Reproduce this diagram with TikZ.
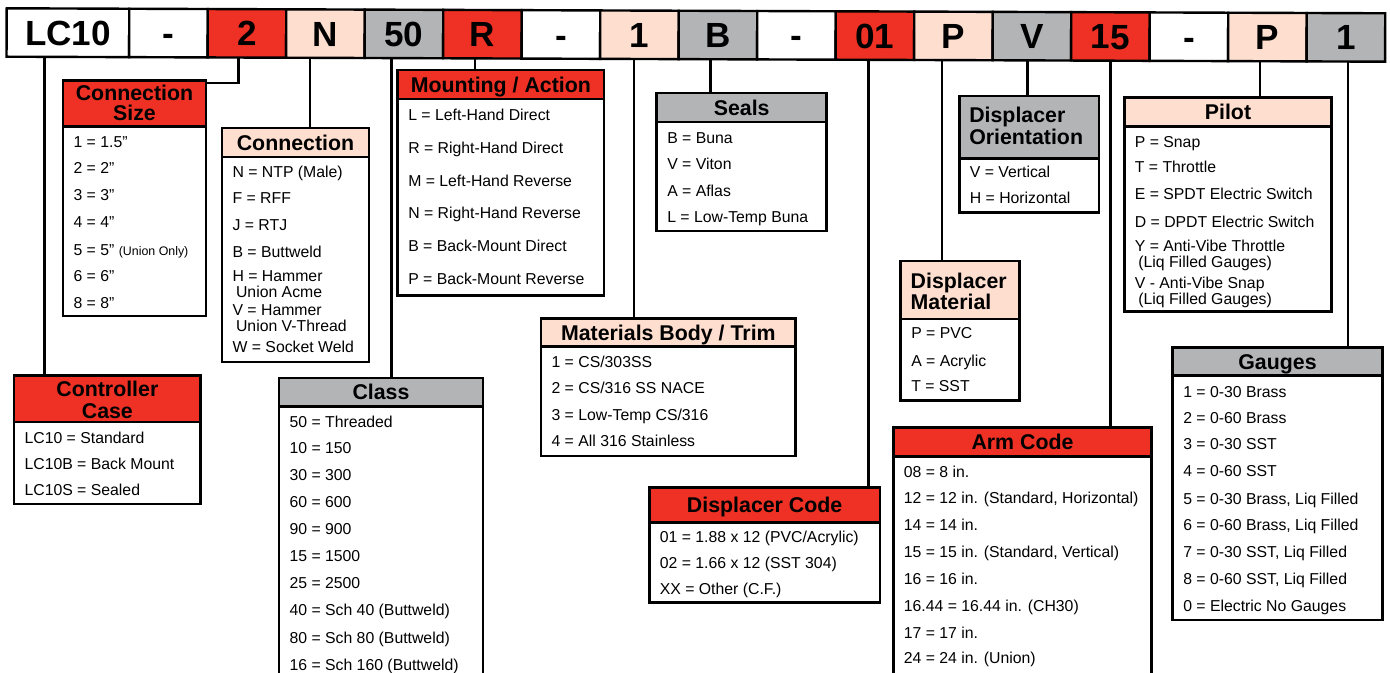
\documentclass[tikz,border=0pt]{standalone}
\usepackage{fontspec}
\setmainfont{Liberation Sans}
\usetikzlibrary{calc}
\newlength{\pxu}\setlength{\pxu}{0.75pt}
\definecolor{cred}{RGB}{238,49,36}
\definecolor{cpeach}{RGB}{253,222,207}
\definecolor{cgray}{RGB}{178,180,182}
\newcommand\itemfont{\fontsize{11.85pt}{14pt}\selectfont}
\newcommand\hdrfont{\fontsize{16pt}{16.3pt}\selectfont\bfseries}
\newcommand\cellfont{\fontsize{26.25pt}{30pt}\selectfont\bfseries}
\newcommand\smallfnt{\fontsize{9.3pt}{11pt}\selectfont}
\tikzset{
  cell/.style={draw, line width=2.4\pxu, minimum width=78.5\pxu, minimum height=48.4\pxu,
    inner sep=0pt, outer sep=0pt, font=\cellfont, text height=18.8pt, text depth=0pt, transform shape},
  hdrbox/.style={draw, line width=2.6\pxu, inner sep=0pt, outer sep=0pt, anchor=north west,
    font=\hdrfont, text height=11.46pt, text depth=0pt},
  bodybox/.style={draw, fill=white, line width=2.6\pxu, inner sep=0pt, outer sep=0pt, anchor=north west},
  item/.style={anchor=base west, inner sep=0pt, font=\itemfont},
  htext/.style={anchor=base, inner sep=0pt, font=\hdrfont},
  htextl/.style={anchor=base west, inner sep=0pt, font=\hdrfont},
  conn/.style={line width=2.4\pxu},
}
\newcommand\mkbox[8]{%
  \node[bodybox, minimum width={(#4-#2)*\pxu}, minimum height={(#6-#5)*\pxu}] (#1-b) at (#2,#5) {};
  \node[hdrbox, fill=#7, minimum width={(#4-#2)*\pxu}, minimum height={(#5-#3)*\pxu}] (#1) at (#2,#3) {#8};
}
\newcommand\items[3]{%
  \foreach \iy/\itxt [count=\cnt] in {#3} {\node[item] (#1-\cnt) at ({#2+10.3},{\iy+5.6}) {\itxt};}
}
\begin{document}
\begin{tikzpicture}[x=0.75pt, y=-0.75pt]
\clip (0,0) rectangle (1390,673);
\fill[white] (0,0) rectangle (1390,673);

% ---- code bar ----
\begin{scope}[rotate around={-0.2076:(6.7,8.3)}]
  \node[cell, minimum width=122.6\pxu, fill=white] (c1) at (68,32.5) {LC10};
  \foreach \lab/\col [count=\i from 2] in {-/white, 2/cred, N/cpeach, 50/cgray, R/cred, -/white,
      1/cpeach, B/cgray, -/white, 01/cred, P/cpeach, V/cgray, 15/cred, -/white, P/cpeach, 1/cgray}
    \node[cell, fill=\col] (c\i) at ({129.3+78.5*(\i-2)+39.25},32.5) {\lab};
\end{scope}

% ---- boxes ----
\mkbox{ccase}{14}{375.7}{200.7}{422}{504}{cred}{}
\node[htext] (ccase-t1) at (107.35,396.6) {Controller};
\node[htext] (ccase-t2) at (107.35,418.3) {Case};
\items{ccase}{14}{437.7/{LC10 = Standard}, 463.7/{LC10B = Back Mount}, 489.7/{LC10S = Sealed}}

\mkbox{csize}{63}{80.7}{206}{126.7}{316}{cred}{}
\node[htext] (csize-t1) at (134.5,100.9) {Connection};
\node[htext] (csize-t2) at (134.5,120.9) {Size};
\items{csize}{63}{141.7/{1 = 1.5”}, 168/{2 = 2”}, 195/{3 = 3”}, 222/{4 = 4”},
  249.7/{5 = 5” {\smallfnt (Union Only)}}, 276/{6 = 6”}, 303/{8 = 8”}}

\mkbox{conn}{222}{128}{369}{157}{362}{cpeach}{Connection}
\items{conn}{222}{171.7/{N = NTP (Male)}, 198/{F = RFF}, 225/{J = RTJ}, 252/{B = Buttweld},
  276/{H = Hammer}, 291.7/{\hspace*{3.5\pxu}Union Acme}, 310/{V = Hammer},
  326/{\hspace*{3.5\pxu}Union V-Thread}, 347/{W = Socket Weld}}

\mkbox{class}{279}{378}{483}{406.7}{690}{cgray}{Class}
\items{class}{279}{421.7/{50 = Threaded}, 448.2/{10 = 150}, 475/{30 = 300}, 502/{60 = 600},
  529/{90 = 900}, 556/{15 = 1500}, 583/{25 = 2500}, 610/{40 = Sch 40 (Buttweld)},
  637.5/{80 = Sch 80 (Buttweld)}, 664.7/{16 = Sch 160 (Buttweld)}}

\mkbox{mount}{397.7}{70}{604}{99}{295.7}{cred}{Mounting / Action}
\items{mount}{397.7}{115/{L = Left-Hand Direct}, 148/{R = Right-Hand Direct},
  181/{M = Left-Hand Reverse}, 213/{N = Right-Hand Reverse}, 246/{B = Back-Mount Direct},
  279/{P = Back-Mount Reverse}}

\mkbox{seals}{656.7}{93}{826.7}{122}{231}{cgray}{Seals}
\items{seals}{656.7}{137.7/{B = Buna}, 163.7/{V = Viton}, 190.7/{A = Aflas}, 216.7/{L = Low-Temp Buna}}

\mkbox{mat}{541}{318.3}{795.7}{346.7}{456}{cpeach}{Materials Body / Trim}
\items{mat}{541}{361.7/{1 = CS/303SS}, 388.3/{2 = CS/316 SS NACE}, 415/{3 = Low-Temp CS/316},
  441/{4 = All 316 Stainless}}

\mkbox{dcode}{649.3}{487.7}{880}{522.3}{602.7}{cred}{Displacer Code}
\items{dcode}{649.3}{536.7/{01 = 1.88 x 12 (PVC/Acrylic)}, 563.3/{02 = 1.66 x 12 (SST 304)},
  589.3/{XX = Other (C.F.)}}

\mkbox{dorient}{959.3}{96}{1099}{158.3}{212.7}{cgray}{}
\node[htextl] (dorient-t1) at (969,122.6) {Displacer};
\node[htextl] (dorient-t2) at (969,144.3) {Orientation};
\items{dorient}{959.3}{172.3/{V = Vertical}, 198.3/{H = Horizontal}}

\mkbox{dmat}{900.7}{261}{1019.3}{319}{400.7}{cpeach}{}
\node[htextl] (dmat-t1) at (910.4,288.3) {Displacer};
\node[htextl] (dmat-t2) at (910.4,309.3) {Material};
\items{dmat}{900.7}{333.3/{P = PVC}, 360.7/{A = Acrylic}, 386/{T = SST}}

\mkbox{arm}{893.3}{427.7}{1151.7}{456.7}{690}{cred}{Arm Code}
\items{arm}{893.3}{471.7/{08 = 8 in.}, 497.7/{12 = 12 in. (Standard, Horizontal)}, 524.7/{14 = 14 in.},
  551.7/{15 = 15 in. (Standard, Vertical)}, 578.7/{16 = 16 in.}, 605.7/{16.44 = 16.44 in. (CH30)},
  632.7/{17 = 17 in.}, 658.3/{24 = 24 in. (Union)}}

\mkbox{pilot}{1124.3}{97.7}{1331.7}{126.7}{311.7}{cpeach}{Pilot}
\items{pilot}{1124.3}{141.7/{P = Snap}, 167.3/{T = Throttle}, 194.3/{E = SPDT Electric Switch},
  221.7/{D = DPDT Electric Switch}, 245.7/{Y = Anti-Vibe Throttle},
  261.7/{\hspace*{3.5\pxu}(Liq Filled Gauges)}, 283.3/{V - Anti-Vibe Snap},
  299.3/{\hspace*{3.5\pxu}(Liq Filled Gauges)}}

\mkbox{gauges}{1172.7}{347.3}{1382.3}{375.7}{620}{cgray}{Gauges}
\items{gauges}{1172.7}{391.7/{1 = 0-30 Brass}, 417.7/{2 = 0-60 Brass}, 444.3/{3 = 0-30 SST},
  471.3/{4 = 0-60 SST}, 499/{5 = 0-30 Brass, Liq Filled}, 525.3/{6 = 0-60 Brass, Liq Filled},
  552.3/{7 = 0-30 SST, Liq Filled}, 579.3/{8 = 0-60 SST, Liq Filled}, 605.7/{0 = Electric No Gauges}}

% ---- connectors ----
\coordinate (k1) at ($(c1.south)+(-23.4,0)$);
\coordinate (k3) at ($(c3.south)+(-8.5,0)$);
\coordinate (k4) at ($(c4.south)+(-15.5,0)$);
\coordinate (k5) at ($(c5.south)+(-12.3,0)$);
\coordinate (k6) at ($(c6.south)+(-7.5,0)$);
\coordinate (k8) at ($(c8.south)+(-5.2,0)$);
\coordinate (k9) at ($(c9.south)+(-7.3,0)$);
\coordinate (k11) at ($(c11.south)+(-6.3,0)$);
\coordinate (k12) at ($(c12.south)+(-11.2,0)$);
\coordinate (k13) at ($(c13.south)+(-4.3,0)$);
\coordinate (k14) at ($(c14.south)+(0.1,0)$);
\coordinate (k16) at ($(c16.south)+(-7.5,0)$);
\coordinate (k17) at ($(c17.south)+(2.2,0)$);
\draw[conn] (k1) -- (k1 |- ccase.north);
\draw[conn] (k3) |- ($(csize.north east)+(0,2.3)$);
\draw[conn] (k4) -- (k4 |- conn.north);
\draw[conn] (k5) -- (k5 |- class.north);
\draw[conn] (k6) -- (k6 |- mount.north);
\draw[conn] (k8) -- (k8 |- mat.north);
\draw[conn] (k9) -- (k9 |- seals.north);
\draw[conn] (k11) -- (k11 |- dcode.north);
\draw[conn] (k12) -- (k12 |- dmat.north);
\draw[conn] (k13) -- (k13 |- dorient.north);
\draw[conn] (k14) -- (k14 |- arm.north);
\draw[conn] (k16) -- (k16 |- pilot.north);
\draw[conn] (k17) -- (k17 |- gauges.north);
\end{tikzpicture}
\end{document}
